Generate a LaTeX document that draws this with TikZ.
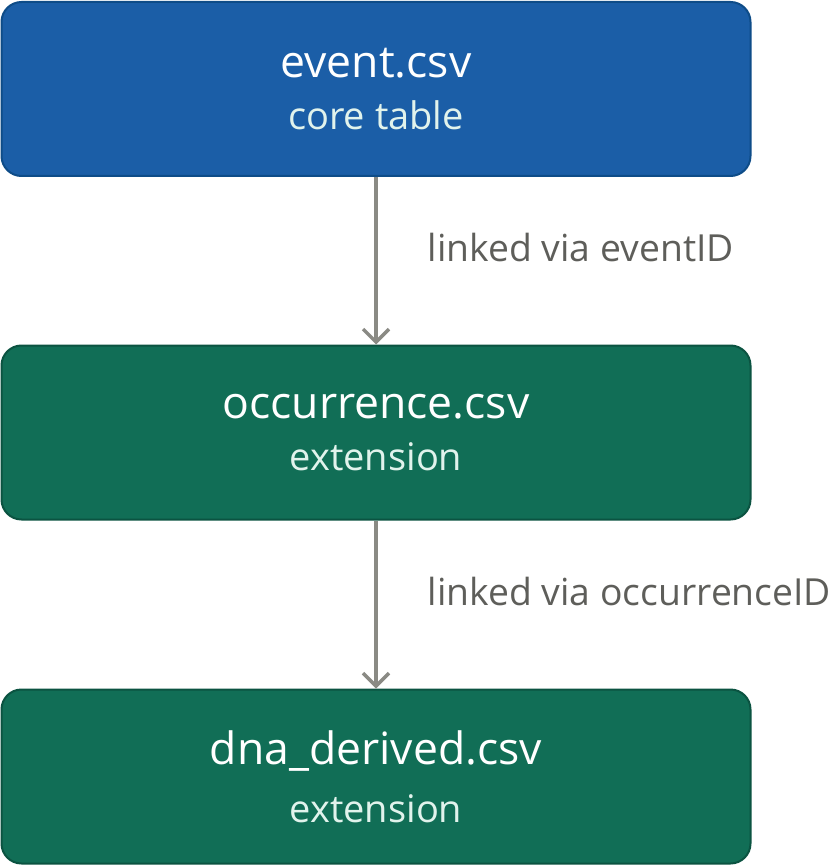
\documentclass[tikz,border=0pt]{standalone}
\usepackage{fontspec}
\setmainfont{Open Sans}
\usetikzlibrary{arrows.meta}
\begin{document}
\begin{tikzpicture}[x=1pt,y=-1pt]
            \definecolor{cl1}{HTML}{1B5EA7}
            \definecolor{cl2}{HTML}{0E4C88}
            \definecolor{cl3}{HTML}{116E56}
            \definecolor{cl4}{HTML}{0B5341}
            \definecolor{cl5}{HTML}{8A8A84}
            \definecolor{cl6}{HTML}{5E5E5A}
            \definecolor{cl7}{HTML}{E1F3EC}
            \tikzset{
                box/.style={rounded corners=20pt, line width=2pt, minimum width=749pt,
                    minimum height=174pt, align=center, text=white, inner sep=0pt},
                core/.style={box, fill=cl1, draw=cl2},
                ext/.style={box, fill=cl3, draw=cl4},
                link/.style={line width=3.5pt, draw=cl5, -{Straight Barb[length=13pt,width=26pt,line width=3.5pt]}},
                linktext/.style={anchor=west, text=cl6, font=\fontsize{37.3}{44}\selectfont, inner sep=0pt, xshift=50pt}
            }
            \newcommand{\boxtitle}[1]{{\fontsize{44.5}{52}\selectfont #1}}
            \newcommand{\boxsub}[1]{{\color{cl7}\fontsize{38}{44}\selectfont #1}}
            \useasboundingbox (0,0) rectangle (836,866);
            \node[core] (event) at (376,89)    {\boxtitle{event.csv}\\[22pt]\boxsub{core table}};
            \node[ext]  (occ)   at (376,432.5) {\boxtitle{occurrence.csv}\\[22pt]\boxsub{extension}};
            \node[ext]  (dna)   at (376,776.5) {\boxtitle{dna\_derived.csv}\\[22pt]\boxsub{extension}};
            \draw[link] (event) -- node[linktext, pos=0.42] (l1) {linked via eventID} (occ);
            \draw[link] (occ) -- node[linktext, pos=0.42] (l2) {linked via occurrenceID} (dna);
        \end{tikzpicture}
\end{document}
